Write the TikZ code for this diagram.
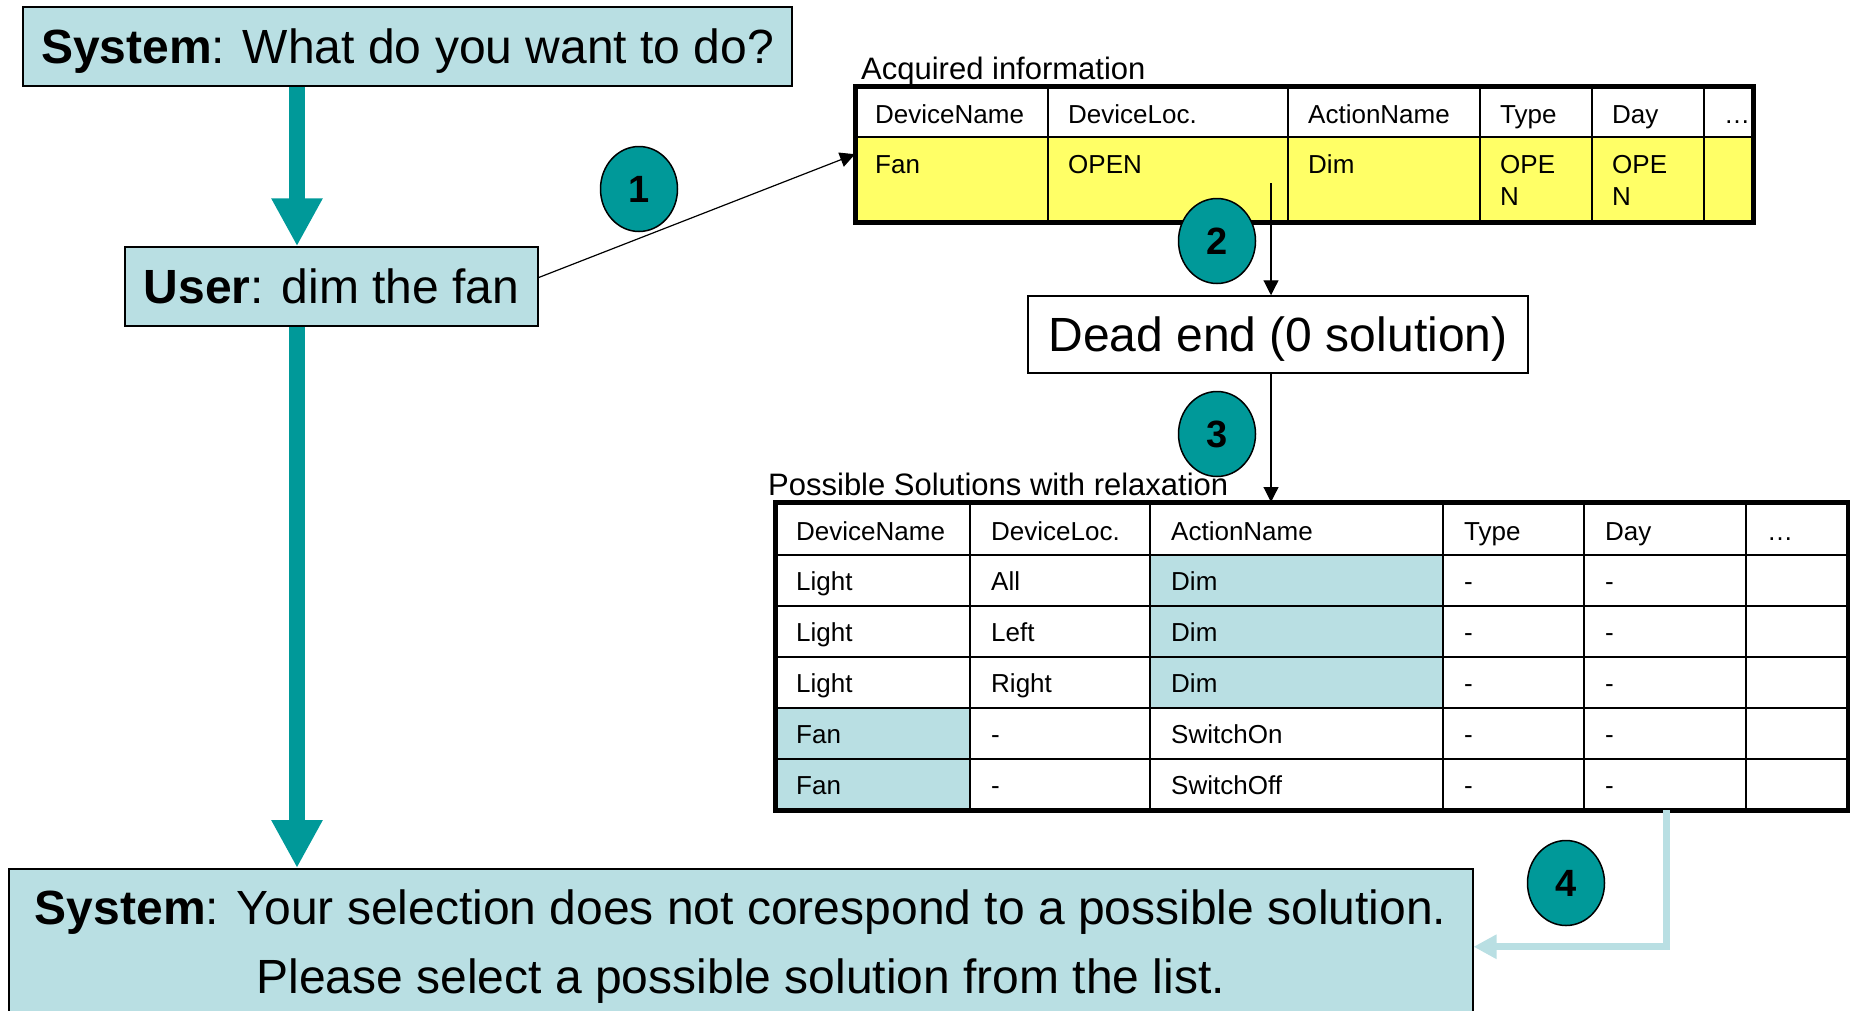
\documentclass[tikz,border=0pt]{standalone}
\usepackage{fontspec}
\setmainfont{Liberation Sans}
\usetikzlibrary{arrows.meta,positioning,shapes.geometric}

\definecolor{paleblue}{RGB}{185,223,227}
\definecolor{tealbadge}{RGB}{0,153,153}
\definecolor{lemon}{RGB}{255,255,102}

\begin{document}
\begin{tikzpicture}[
  x=1pt, y=-1pt,
  every node/.style={font=\fontsize{48}{69}\selectfont},
  talk/.style={draw, fill=paleblue, line width=1.5pt, inner sep=0pt},
  oneline/.style={text height=34pt, text depth=0pt},
  badge/.style={ellipse, draw, fill=tealbadge, line width=1.5pt, inner sep=0pt,
              minimum width=77pt, minimum height=85pt,
              font=\fontsize{38}{40}\selectfont\bfseries},
  cell/.style={anchor=base west, inner sep=0pt, align=left,
              font=\fontsize{26}{32}\selectfont},
  caption/.style={anchor=base west, inner sep=0pt,
              font=\fontsize{31}{36}\selectfont},
  flow/.style={line width=16pt, tealbadge, -{Triangle[length=48pt,width=48pt]}},
  pointer/.style={line width=1.2pt, -{Triangle[length=15pt,width=15pt]}},
  ret/.style={line width=7pt, paleblue, -{Triangle[length=23pt,width=23pt]}},
  rule/.style={line width=1.5pt},
  border/.style={line width=5pt},
]
\useasboundingbox (0,0) rectangle (1850,1010);
\clip (0,0) rectangle (1850,1010);

% Dialogue (left)
\node[talk, oneline, minimum width=769pt, minimum height=79pt] (ask) at (407.5,46.5)
  {\textbf{System}: What do you want to do?};
\node[talk, oneline, minimum width=413pt, minimum height=79pt] (user) at (331.5,286.5)
  {\textbf{User}: dim the fan};
\node[talk, anchor=north west, align=center, minimum width=1464pt, minimum height=156pt]
  (reply) at (8,868)
  {\textbf{System}: Your selection does not corespond to a possible solution.\\
   Please select a possible solution from the list.};

\coordinate (spine) at (297,0);
\draw[flow] (ask.south -| spine) -- (user.north -| spine);
\draw[flow] (user.south -| spine) -- (reply.north -| spine);

% Acquired information table
\node[inner sep=0pt, minimum width=898pt, minimum height=136pt, anchor=north west]
  (acq) at (855,86) {};
\fill[lemon] (855,137) rectangle (1753,222);
\foreach \x in {1048,1288,1480,1592,1704}
  \draw[rule] (\x,86) -- (\x,222);
\draw[rule] (855,137) -- (1753,137);
\draw[border] (acq.north west) rectangle (acq.south east);
\foreach \x/\t [count=\i] in {875/DeviceName, 1068/DeviceLoc., 1308/ActionName,
                               1500/Type, 1612/Day, 1724/…}
  \node[cell] (acq-h\i) at (\x,123) {\t};
\foreach \x/\y/\t [count=\i] in {875/173/Fan, 1068/173/OPEN, 1308/173/Dim,
                                  1500/205/{OPE\\N}, 1612/205/{OPE\\N}}
  \node[cell] (acq-r\i) at (\x,\y) {\t};

% Dead end
\node[talk, oneline, fill=white, minimum width=500pt, minimum height=77pt]
  (dead) at (1278,334.5) {Dead end (0 solution)};

% Possible solutions table
\node[inner sep=0pt, minimum width=1073pt, minimum height=308pt, anchor=north west]
  (sol) at (775,502) {};
\fill[paleblue] (1150,555) rectangle (1443,708);
\fill[paleblue] (775,708) rectangle (970,810);
\foreach \x in {970,1150,1443,1584,1746}
  \draw[rule] (\x,502) -- (\x,810);
\foreach \y in {555,606,657,708,759}
  \draw[rule] (775,\y) -- (1850,\y);
\draw[border] (sol.north west) rectangle (sol.south east);
\foreach \x/\t [count=\i] in {796/DeviceName, 991/DeviceLoc., 1171/ActionName,
                               1464/Type, 1605/Day, 1767/…}
  \node[cell] (sol-h\i) at (\x,540) {\t};
\foreach \y/\a/\b/\c [count=\r] in {590/Light/All/Dim, 641/Light/Left/Dim,
    692/Light/Right/Dim, 743/Fan/-/SwitchOn, 794/Fan/-/SwitchOff} {
  \node[cell] (sol-\r-1) at (796,\y) {\a};
  \node[cell] (sol-\r-2) at (991,\y) {\b};
  \node[cell] (sol-\r-3) at (1171,\y) {\c};
  \node[cell] (sol-\r-4) at (1464,\y) {-};
  \node[cell] (sol-\r-5) at (1605,\y) {-};
}

% Steps
\coordinate (drop) at (1271,183);
\coordinate (back) at (1666,0);
\draw[pointer] ([yshift=9pt]user.east) -- (acq.west);
\draw[pointer] (drop) -- (drop |- dead.north);
\draw[pointer] (dead.south -| drop) -- (drop |- sol.north);
\draw[ret] (sol.south -| back) |- (reply.east);

\node[badge] (n1) at (639,189) {1};
\node[badge] (n2) at (1217,241) {2};
\node[badge] (n3) at (1217,434) {3};
\node[badge] (n4) at (1566,883) {4};

\node[caption] (acqcap) at ([shift={(6,-7)}]acq.north west) {Acquired information};
\node[caption] (solcap) at ([shift={(-7,-7)}]sol.north west)
  {Possible Solutions with relaxation};

\end{tikzpicture}
\end{document}
